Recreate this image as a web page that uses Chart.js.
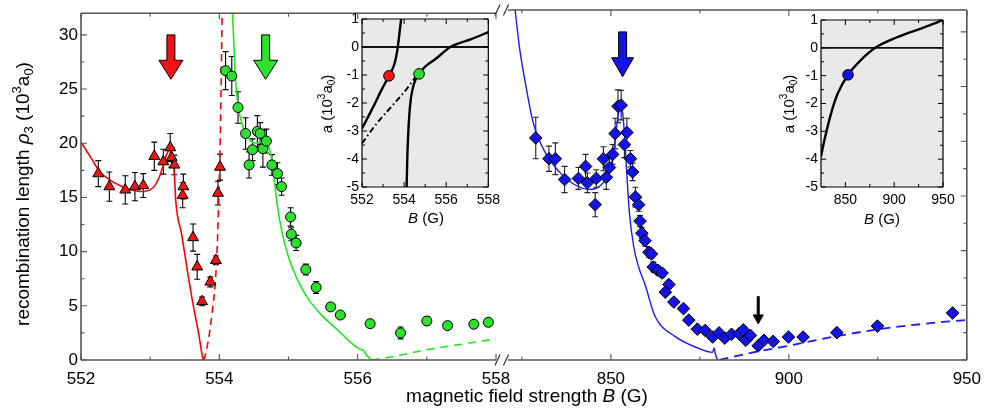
<!DOCTYPE html>
<html><head><meta charset="utf-8">
<script src="https://cdn.jsdelivr.net/npm/chart.js@4/dist/chart.umd.min.js"></script>
<style>
html,body{margin:0;padding:0;background:#fff;}
#wrap{position:relative;width:990px;height:416px;overflow:hidden;background:#fff;}
canvas{position:absolute;top:0;}
</style></head><body>
<div id="wrap">
<canvas id="cL" width="990" height="416" style="left:0;width:990px;height:416px"></canvas>
<canvas id="cR" width="990" height="416" style="left:0;width:990px;height:416px"></canvas>
<canvas id="cI1" width="215" height="235" style="left:290px;width:215px;height:235px"></canvas>
<canvas id="cI2" width="225" height="235" style="left:755px;width:225px;height:235px"></canvas>
</div>
<script>
// ---------- data: main panel, low-field part (B in G, rho3 in 10^3 a0) ----------
const redB   = [552.25,552.41,552.64,552.78,552.90,553.06,553.19,553.29,553.31,553.35,553.48,553.47,553.62,553.68,553.75,553.87,553.95,553.98,554.01];
const redRho = [17.2,16.0,15.7,16.0,16.1,18.8,18.3,19.6,18.7,18.0,16.0,15.2,11.3,8.6,5.4,7.2,9.2,15.4,17.8];
const redErr = [1.2,1.35,1.3,1.3,1.1,1.3,1.15,1.3,0.9,0.9,1.15,1.15,1.25,1.15,0.4,0.45,0.4,1.1,1.2];

const greenB   = [554.09,554.18,554.27,554.38,554.43,554.48,554.55,554.59,554.63,554.68,554.76,554.84,554.90,555.03,555.04,555.11,555.25,555.40,555.61,555.75,556.18,556.62,557.00,557.30,557.68,557.89];
const greenRho = [26.7,26.2,23.3,20.9,18.0,19.4,21.1,20.9,19.5,20.2,18.0,17.2,16.0,13.2,11.6,10.8,8.35,6.7,4.9,4.15,3.35,2.5,3.6,3.17,3.3,3.48];
const greenErr = [1.75,1.8,1.45,1.45,1.2,1.0,1.45,1.0,1.7,1.1,0.95,1.0,0.8,0.85,0.6,0.7,0.5,0.55,0.3,0.3,0.25,0.55,0.4,0.35,0.3,0.35];

const redFitB   = [552,552.15,552.27,552.42,552.56,552.7,552.85,553.0,553.08,553.14,553.19,553.24,553.28,553.31,553.33,553.35,553.37,553.455,553.53,553.61,553.70,553.76,553.775,553.79];
const redFitRho = [20.1,18.6,17.4,16.6,16.1,15.75,15.55,15.7,16.2,17.0,18.0,19.0,19.4,19.2,18.6,17.2,14.7,11.6,8.56,5.5,2.47,0.2,0.0,0.35];
const redDashB   = [553.775,553.81,553.86,553.90,553.94,553.97,553.99,554.01,554.025,554.04];
const redDashRho = [0,0.8,2.6,4.6,7.0,10.5,14.5,19.5,25,32];

const greenFitB   = [554.19,554.21,554.23,554.27,554.35,554.44,554.54,554.63,554.70,554.75,554.79,554.84,554.91,555.0,555.13,555.3,555.5,555.74,555.9,556.03,556.09,556.12,556.2];
const greenFitRho = [32,29.3,26.3,23.5,21.4,20.3,20.0,20.2,19.9,18.8,16.8,14.2,11.7,9.5,7.4,5.5,4.0,2.6,1.6,1.0,0.85,0.5,0];
const greenDashB   = [556.2,556.5,557,557.5,558];
const greenDashRho = [0,0.3,0.95,1.45,1.95];

// ---------- data: main panel, high-field part ----------
const blueB   = [828.9,832.6,834.4,837.0,840.9,842.9,843.4,845.6,845.9,847.9,848.7,849.6,850.5,851.2,852.0,852.9,853.8,854.5,855.5,856.1,856.9,857.8,858.2,858.7,859.6,860.7,861.4,861.9,863.2,864.4,866.3,865.3,867.7,870.4,871.9,874.3,876.5,878.6,880.4,882.0,883.9,886.0,887.2,887.9,889.2,891.4,893.0,895.6,899.9,904.0,913.5,924.9,946.0];
const blueRho = [20.3,18.4,18.4,16.5,16.6,17.7,16.2,14.2,16.6,18.4,16.7,17.6,18.8,20.7,23.2,23.3,19.7,20.8,18.4,17.2,14.9,14.2,12.7,11.6,10.9,9.85,9.7,8.5,8.2,7.95,6.9,6.2,5.3,4.7,3.65,2.82,2.7,2.1,2.48,2.0,2.35,2.4,2.75,1.8,2.25,1.3,1.8,1.7,2.1,2.1,2.5,3.1,4.3];
const blueErr = [1.9,1.15,1.45,1.2,1.0,1.1,0.9,1.1,0.8,1.1,1.1,0.8,0.9,1.4,1.5,1.35,1.2,1.3,0.75,0.8,0.9,0.6,0.5,0.5,0.5,0.45,0.4,0.45,0.4,0.35,0.35,0.3,0.3,0.25,0.25,0.25,0.25,0.2,0.2,0.2,0.2,0.2,0.3,0.2,0.2,0.3,0.2,0.2,0.2,0.2,0.2,0.2,0.2];

const blueFitB   = [823.1,824.4,826,828.1,831.5,835.5,840,844,846.5,849,850.4,851.3,852,852.7,853.3,853.9,854.4,855.2,856.4,857.8,859.6,862.4,868,874.4,878.6,879.0,879.4,880];
const blueFitRho = [32,28.4,25.3,21.8,19.0,17.2,16.0,15.6,15.8,16.8,18.3,20.4,22.3,23.0,22.6,20.3,17.5,13.5,10.4,8.5,6.9,4.0,2.16,1.1,0.7,1.1,0.5,0];
const blueDashB   = [880.5,890,900,913,925,944,950];
const blueDashRho = [0,0.7,1.3,2.15,2.8,3.5,3.65];

// resonance markers (arrows)
const resonanceLowB  = [553.30, 554.67];
const resonanceHighB = [853.3];
const minimumB       = [891.4];

// ---------- insets: scattering length a (10^3 a0) ----------
const insetRedB = [552,552.54,552.93,553.28,553.55,553.70,553.78,553.86];
const insetRedA = [-2.91,-2.13,-1.53,-1.03,-0.58,0,0.5,1.0];
const insetGreenB = [554.12,554.15,554.19,554.25,554.32,554.42,554.55,554.71,555.0,555.49,556.2,557.19,558];
const insetGreenA = [-5,-4.0,-3.2,-2.4,-1.85,-1.45,-1.15,-0.96,-0.7,-0.43,0,0.28,0.53];
const insetBgB = [552,552.7,553.47,554.09,554.56,554.8];
const insetBgA = [-3.44,-2.73,-2.07,-1.53,-1.06,-0.85];
const insetHighB = [825,828.4,835.2,842,852.7,865.3,880.6,902.9,930,950];
const insetHighA = [-3.9,-3.33,-2.37,-1.65,-0.97,-0.46,0,0.38,0.73,1.0];
const insetDotsLowB = [553.28, 554.71];
const insetDotsLowA = [-1.03, -0.96];
const insetDotHighB = [852.7];
const insetDotHighA = [-0.97];

// tick values
const xLowMajor = [552,554,556,558], xLowMinor = [553,555,557];
const xHighMajor = [850,900,950], xHighMinor = [825,875,925];
const yMajor = [0,5,10,15,20,25,30], yMinor = [2.5,7.5,12.5,17.5,22.5,27.5];
const aMajor = [-5,-4,-3,-2,-1,0,1], aMinor = [-4.5,-3.5,-2.5,-1.5,-0.5,0.5];
const insetHighMajor = [850,900,950], insetHighMinor = [875,925];

// ---------- helpers ----------
const FONT = '"Liberation Sans", Arial, Helvetica, sans-serif';
const pts = (xs, ys) => xs.map((x, i) => ({x, y: ys[i]}));

function drawRich(ctx, parts, x, y, size, rot) {
  ctx.save();
  ctx.translate(x, y);
  if (rot) ctx.rotate(-Math.PI / 2);
  ctx.textBaseline = 'middle'; ctx.textAlign = 'left'; ctx.fillStyle = '#000';
  const segs = parts.map(p => {
    const fs = p.s ? Math.round(size * 0.66) : size;
    const font = (p.i ? 'italic ' : '') + fs + 'px ' + FONT;
    ctx.font = font;
    return {t: p.t, font, w: ctx.measureText(p.t).width,
      dy: p.s === 'sup' ? -size * 0.36 : p.s === 'sub' ? size * 0.3 : 0};
  });
  const total = segs.reduce((s, g) => s + g.w, 0);
  let cx = -total / 2;
  for (const g of segs) { ctx.font = g.font; ctx.fillText(g.t, cx, g.dy); cx += g.w; }
  ctx.restore();
}

const framePlugin = {
  id: 'frame',
  beforeDatasetsDraw(chart, args, o) {
    if (!o || !o.sides) return;
    const {ctx, chartArea: a} = chart;
    if (o.fill) { ctx.save(); ctx.fillStyle = o.fill; ctx.fillRect(a.left, a.top, a.right - a.left, a.bottom - a.top); ctx.restore(); }
  },
  afterDatasetsDraw(chart, args, o) {
    if (!o || !o.sides) return;
    const {ctx, chartArea: a, scales} = chart;
    const xs = scales.x, ys = scales.y;
    ctx.save();
    ctx.strokeStyle = o.color; ctx.lineWidth = o.tickWidth;
    ctx.beginPath();
    const xt = (vals, len) => vals.forEach(v => {
      const px = xs.getPixelForValue(v);
      if (px < a.left - 0.5 || px > a.right + 0.5) return;
      if (o.xSides.includes('bottom')) { ctx.moveTo(px, a.bottom); ctx.lineTo(px, a.bottom - len); }
      if (o.xSides.includes('top')) { ctx.moveTo(px, a.top); ctx.lineTo(px, a.top + len); }
    });
    const yt = (vals, len) => vals.forEach(v => {
      const py = ys.getPixelForValue(v);
      if (py < a.top - 0.5 || py > a.bottom + 0.5) return;
      if (o.ySides.includes('left')) { ctx.moveTo(a.left, py); ctx.lineTo(a.left + len, py); }
      if (o.ySides.includes('right')) { ctx.moveTo(a.right, py); ctx.lineTo(a.right - len, py); }
    });
    xt(o.xMajor, o.major); xt(o.xMinor, o.minor);
    yt(o.yMajor, o.major); yt(o.yMinor, o.minor);
    ctx.stroke();
    ctx.lineWidth = o.width;
    ctx.beginPath();
    if (o.sides.includes('left')) { ctx.moveTo(a.left, a.top); ctx.lineTo(a.left, a.bottom); }
    if (o.sides.includes('right')) { ctx.moveTo(a.right, a.top); ctx.lineTo(a.right, a.bottom); }
    if (o.sides.includes('top')) { ctx.moveTo(a.left, a.top); ctx.lineTo(a.right, a.top); }
    if (o.sides.includes('bottom')) { ctx.moveTo(a.left, a.bottom); ctx.lineTo(a.right, a.bottom); }
    ctx.stroke();
    ctx.restore();
  }
};

const errPlugin = {
  id: 'errbars',
  beforeDatasetsDraw(chart) {
    const {ctx, scales: {x, y}} = chart;
    chart.data.datasets.forEach(ds => {
      if (!ds.errorBars) return;
      ctx.save();
      ctx.strokeStyle = ds.errorColor || '#000'; ctx.lineWidth = 1.1;
      ctx.beginPath();
      ds.data.forEach((d, i) => {
        const e = ds.errorBars[i];
        const px = x.getPixelForValue(d.x), p1 = y.getPixelForValue(d.y + e), p2 = y.getPixelForValue(d.y - e);
        ctx.moveTo(px, p1); ctx.lineTo(px, p2);
        ctx.moveTo(px - 3, p1); ctx.lineTo(px + 3, p1);
        ctx.moveTo(px - 3, p2); ctx.lineTo(px + 3, p2);
      });
      ctx.stroke();
      ctx.restore();
    });
  }
};

const arrowPlugin = {
  id: 'arrows',
  afterDatasetsDraw(chart, args, o) {
    if (!o || !o.items) return;
    const {ctx, scales: {x, y}} = chart;
    o.items.forEach(it => {
      const px = x.getPixelForValue(it.x), yT = y.getPixelForValue(it.top), yP = y.getPixelForValue(it.tip);
      const yH = yP - it.headLen, s = it.shaft / 2, h = it.head / 2;
      ctx.save();
      ctx.beginPath();
      ctx.moveTo(px - s, yT); ctx.lineTo(px + s, yT); ctx.lineTo(px + s, yH); ctx.lineTo(px + h, yH);
      ctx.lineTo(px, yP); ctx.lineTo(px - h, yH); ctx.lineTo(px - s, yH); ctx.closePath();
      ctx.fillStyle = it.fill; ctx.fill();
      ctx.strokeStyle = '#000'; ctx.lineWidth = 1; ctx.lineJoin = 'miter'; ctx.stroke();
      ctx.restore();
    });
  }
};

const richPlugin = {
  id: 'rich',
  afterDraw(chart, args, o) {
    if (!o || !o.items) return;
    o.items.forEach(it => drawRich(chart.ctx, it.parts, it.x, it.y, it.size, it.rot));
  }
};

const breakPlugin = {
  id: 'breakmarks',
  afterDraw(chart, args, o) {
    if (!o || !o.on) return;
    const {ctx, chartArea: a} = chart;
    ctx.save(); ctx.strokeStyle = '#333'; ctx.lineWidth = 1.2;
    ctx.beginPath();
    [a.top, a.bottom].forEach(cy => {
      [a.left - 10.5, a.left - 2].forEach(cx => { ctx.moveTo(cx - 2.6, cy + 5.5); ctx.lineTo(cx + 2.6, cy - 5.5); });
    });
    ctx.stroke(); ctx.restore();
  }
};

function xAxis(min, max, major, size, pad, h) {
  return {type: 'linear', min, max,
    afterBuildTicks: s => { s.ticks = major.map(v => ({value: v})); },
    afterFit: s => { s.height = h; },
    grid: {display: false, drawTicks: false}, border: {display: false},
    ticks: {autoSkip: false, maxRotation: 0, minRotation: 0, padding: pad, color: '#000', font: {family: FONT, size}, callback: v => String(v)}};
}
function yAxis(min, max, major, size, pad, w) {
  return {type: 'linear', min, max,
    afterBuildTicks: s => { s.ticks = major.map(v => ({value: v})); },
    afterFit: s => { s.width = w; },
    grid: {display: false, drawTicks: false}, border: {display: false},
    ticks: {autoSkip: false, padding: pad, color: '#000', font: {family: FONT, size}, callback: v => String(v)}};
}
const base = {responsive: false, animation: false, events: []};
const rhoParts = [{t: 'recombination length '}, {t: 'ρ', i: 1}, {t: '3', s: 'sub'}, {t: ' (10'}, {t: '3', s: 'sup'}, {t: 'a'}, {t: '0', s: 'sub'}, {t: ')'}];
const aParts = [{t: 'a (10'}, {t: '3', s: 'sup'}, {t: 'a'}, {t: '0', s: 'sub'}, {t: ')'}];
const bParts = [{t: 'B', i: 1}, {t: ' (G)'}];

const RED = '#f01414', GREEN = '#2ee02e', BLUE = '#1414e6';
const lineDs = (data, color, w, dash) => ({data, showLine: true, borderColor: color, borderWidth: w, borderDash: dash || [], pointRadius: 0, cubicInterpolationMode: 'monotone', fill: false});

// ---------- main chart, low-field segment ----------
new Chart(document.getElementById('cL'), {
  type: 'scatter',
  data: {datasets: [
    {data: pts(redB, redRho), errorBars: redErr, pointStyle: 'triangle', pointRadius: 6.3, backgroundColor: RED, borderColor: '#000', borderWidth: 1},
    {data: pts(greenB, greenRho), errorBars: greenErr, pointStyle: 'circle', pointRadius: 5, backgroundColor: GREEN, borderColor: '#000', borderWidth: 1},
    lineDs(pts(redFitB, redFitRho), '#ff0000', 1.6),
    lineDs(pts(redDashB, redDashRho), '#ff0000', 1.6, [7, 5]),
    lineDs(pts(greenFitB, greenFitRho), '#1ee81e', 1.6),
    lineDs(pts(greenDashB, greenDashRho), '#1ee81e', 1.6, [8, 6])
  ]},
  options: {...base,
    layout: {padding: {left: 0, top: 10, right: 494, bottom: 0}},
    scales: {x: xAxis(552, 558, xLowMajor, 17, 9, 56), y: yAxis(0, 32, yMajor, 17, 3, 81)},
    plugins: {legend: {display: false}, tooltip: {enabled: false},
      frame: {sides: ['left', 'top', 'bottom'], xSides: ['bottom', 'top'], ySides: ['left'], xMajor: xLowMajor, xMinor: xLowMinor, yMajor, yMinor, major: 6, minor: 3.5, color: '#555', width: 1.6, tickWidth: 1.1},
      arrows: {items: [
        {x: resonanceLowB[0], top: 30, tip: 25.9, fill: RED, shaft: 8, head: 24, headLen: 19},
        {x: resonanceLowB[1], top: 30, tip: 25.9, fill: GREEN, shaft: 8, head: 24, headLen: 19}]},
      rich: {items: [
        {parts: rhoParts, x: 24, y: 194, size: 19, rot: true},
        {parts: [{t: 'magnetic field strength '}, {t: 'B', i: 1}, {t: ' (G)'}], x: 527, y: 397, size: 19}]}
    }},
  plugins: [framePlugin, errPlugin, arrowPlugin, richPlugin]
});

// ---------- main chart, high-field segment ----------
new Chart(document.getElementById('cR'), {
  type: 'scatter',
  data: {datasets: [
    {data: pts(blueB, blueRho), errorBars: blueErr, errorColor: '#222', pointStyle: 'rectRot', pointRadius: 6.3, backgroundColor: BLUE, borderColor: '#000', borderWidth: 1},
    lineDs(pts(blueFitB, blueFitRho), '#1a1aff', 1.4),
    lineDs(pts(blueDashB, blueDashRho), '#1a1aff', 1.8, [9, 6])
  ]},
  options: {...base,
    layout: {padding: {left: 508, top: 10, right: 17, bottom: 0}},
    scales: {x: xAxis(821.1, 950, xHighMajor, 17, 9, 56), y: {type: 'linear', min: 0, max: 32, display: false}},
    plugins: {legend: {display: false}, tooltip: {enabled: false},
      frame: {sides: ['right', 'top', 'bottom'], xSides: ['bottom', 'top'], ySides: ['right'], xMajor: xHighMajor, xMinor: xHighMinor, yMajor, yMinor, major: 6, minor: 3.5, color: '#555', width: 1.6, tickWidth: 1.1},
      arrows: {items: [
        {x: resonanceHighB[0], top: 30, tip: 25.9, fill: BLUE, shaft: 8, head: 22, headLen: 19},
        {x: minimumB[0], top: 5.8, tip: 3.3, fill: '#000', shaft: 2, head: 10, headLen: 9}]},
      breakmarks: {on: true}
    }},
  plugins: [framePlugin, errPlugin, arrowPlugin, breakPlugin]
});

// ---------- inset 1 ----------
new Chart(document.getElementById('cI1'), {
  type: 'scatter',
  data: {datasets: [
    {data: pts(insetDotsLowB, insetDotsLowA), pointStyle: 'circle', pointRadius: 5.3, backgroundColor: [RED, GREEN], borderColor: '#000', borderWidth: 1},
    lineDs(pts(insetRedB, insetRedA), '#000', 2.4),
    lineDs(pts(insetGreenB, insetGreenA), '#000', 2.4),
    lineDs(pts(insetBgB, insetBgA), '#000', 2, [6, 3, 1.5, 3]),
    lineDs(pts([552, 558], [0, 0]), '#111', 1.8)
  ]},
  options: {...base,
    layout: {padding: {left: 0, top: 19, right: 14, bottom: 0}},
    scales: {x: xAxis(552, 558, xLowMajor, 14, 5, 48), y: yAxis(-5, 1, aMajor, 14, 3, 72)},
    plugins: {legend: {display: false}, tooltip: {enabled: false},
      frame: {sides: ['left', 'right', 'top', 'bottom'], xSides: ['bottom', 'top'], ySides: ['left', 'right'], xMajor: xLowMajor, xMinor: xLowMinor, yMajor: aMajor, yMinor: aMinor, major: 5, minor: 3, color: '#000', width: 1.2, tickWidth: 1, fill: '#e9e9e9'},
      rich: {items: [
        {parts: aParts, x: 38, y: 104, size: 15, rot: true},
        {parts: bParts, x: 136, y: 219, size: 15}]}
    }},
  plugins: [framePlugin, richPlugin]
});

// ---------- inset 2 ----------
new Chart(document.getElementById('cI2'), {
  type: 'scatter',
  data: {datasets: [
    {data: pts(insetDotHighB, insetDotHighA), pointStyle: 'circle', pointRadius: 5.3, backgroundColor: BLUE, borderColor: '#000', borderWidth: 1},
    lineDs(pts(insetHighB, insetHighA), '#000', 2.4),
    lineDs(pts([825, 950], [0, 0]), '#111', 1.8)
  ]},
  options: {...base,
    layout: {padding: {left: 0, top: 20, right: 37, bottom: 0}},
    scales: {x: xAxis(825, 950, insetHighMajor, 14, 5, 48), y: yAxis(-5, 1, aMajor, 14, 3, 66)},
    plugins: {legend: {display: false}, tooltip: {enabled: false},
      frame: {sides: ['left', 'right', 'top', 'bottom'], xSides: ['bottom', 'top'], ySides: ['left', 'right'], xMajor: insetHighMajor, xMinor: insetHighMinor, yMajor: aMajor, yMinor: aMinor, major: 5, minor: 3, color: '#000', width: 1.2, tickWidth: 1, fill: '#e9e9e9'},
      rich: {items: [
        {parts: aParts, x: 35, y: 104, size: 15, rot: true},
        {parts: bParts, x: 127, y: 220, size: 15}]}
    }},
  plugins: [framePlugin, richPlugin]
});
</script>
</body></html>
